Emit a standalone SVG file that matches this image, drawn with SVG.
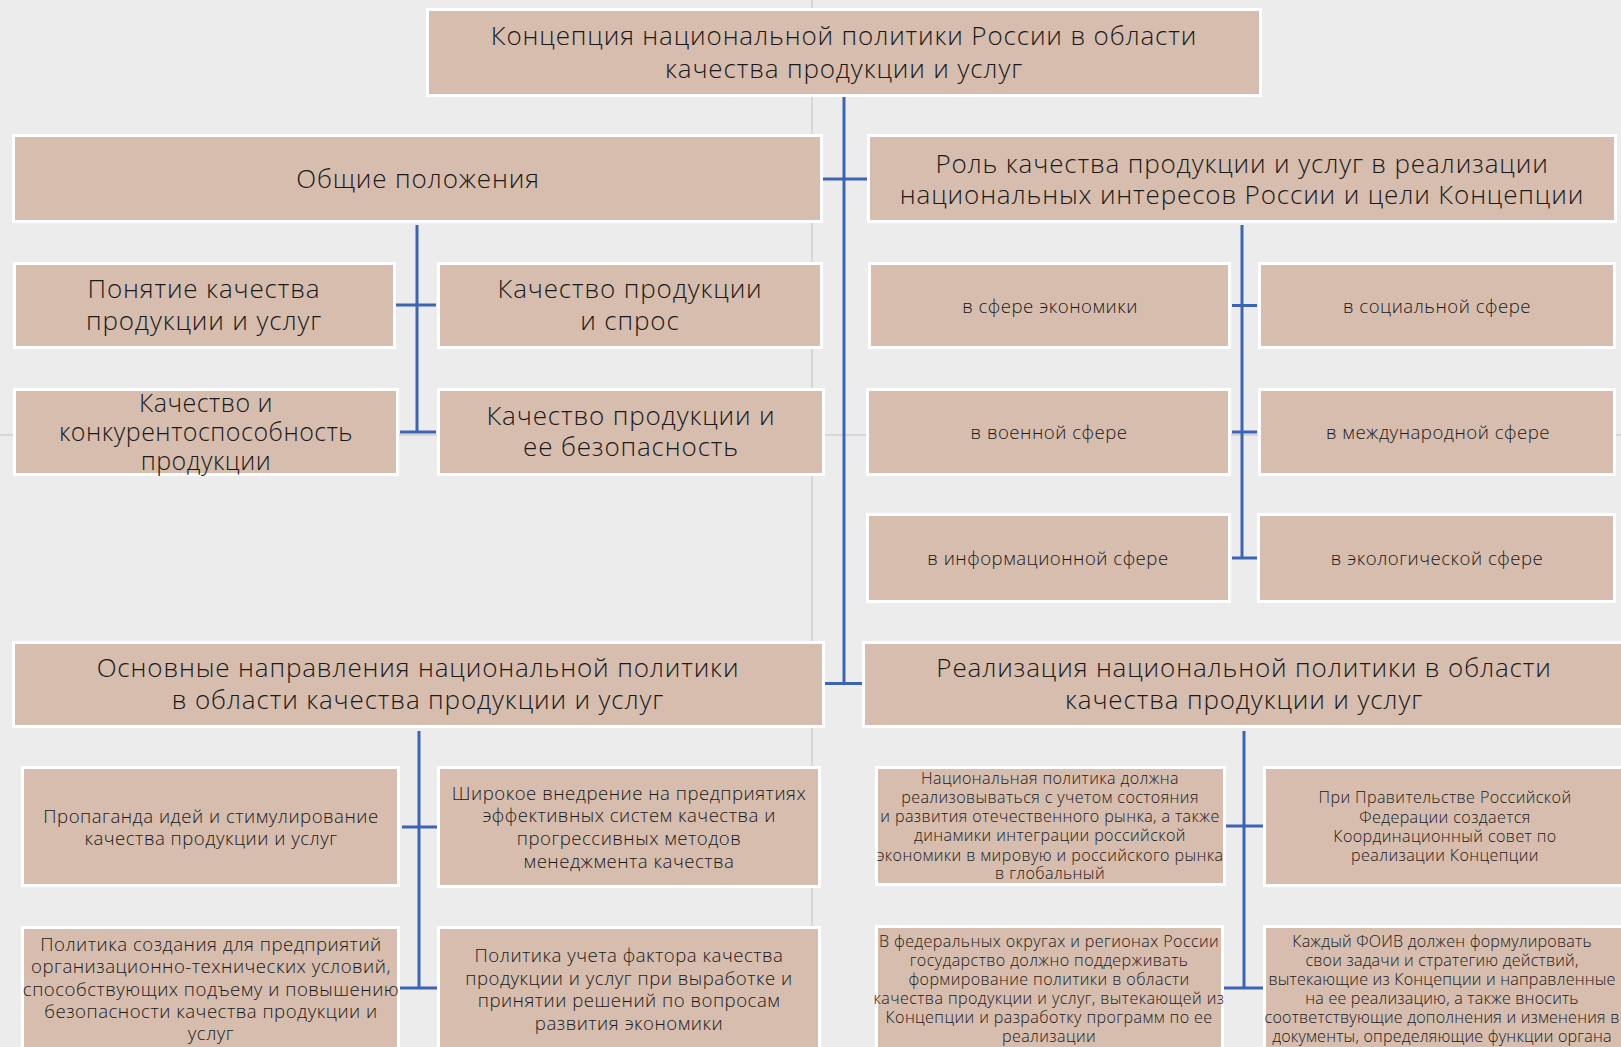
<svg xmlns="http://www.w3.org/2000/svg" width="1621" height="1047" viewBox="0 0 1621 1047">
<style>
.bg{fill:#ececec}
.grid{stroke:#d6d6d6;stroke-width:2;fill:none}
.box{fill:#d6bdae;stroke:#ffffff;stroke-width:3}
.con{stroke:#3c64b4;stroke-width:3;fill:none}
text{font-family:"Open Sans","Noto Sans","Liberation Sans",sans-serif;fill:#1a1a1a;text-anchor:middle;font-weight:300}
.h{font-size:26px;letter-spacing:0.85px}
.h2{font-size:25px;letter-spacing:0.5px}
.m{font-size:18.6px;letter-spacing:0.5px}
.s{font-size:16.1px;letter-spacing:0.4px}
.s2{font-size:16.1px;letter-spacing:0.2px}
</style>
<rect class="bg" x="0" y="0" width="1621" height="1047"/>
<path class="grid" d="M812 0V1047M0 435H1621"/>
<g id="connectors">
<path class="con" d="M844 97V684M823 179H867M825 683.5H862"/>
<path class="con" d="M417 225V432M396 305H436M400 432H436"/>
<path class="con" d="M1242 225V558M1232 305.5H1257M1232 432H1257M1232 558H1257"/>
<path class="con" d="M419 731V988M402 827H437M400 988H437"/>
<path class="con" d="M1244 731V988M1226 826H1263M1224 988H1263"/>
</g>
<g id="n1"><rect class="box" x="427.5" y="9.5" width="833" height="86"/><text class="h" x="844" y="45">Концепция национальной политики России в области</text><text class="h" x="844" y="77.5">качества продукции и услуг</text></g>
<g id="n2"><rect class="box" x="13.5" y="135.5" width="808" height="86"/><text class="h" x="418" y="188">Общие положения</text></g>
<g id="n3"><rect class="box" x="868.5" y="135.5" width="747" height="86"/><text class="h" x="1242" y="172.5">Роль качества продукции и услуг в реализации</text><text class="h" x="1242" y="203.5">национальных интересов России и цели Концепции</text></g>
<g id="n4"><rect class="box" x="14.5" y="263.5" width="380" height="84"/><text class="h" x="204" y="298">Понятие качества</text><text class="h" x="204" y="330">продукции и услуг</text></g>
<g id="n5"><rect class="box" x="438.5" y="263.5" width="383" height="84"/><text class="h" x="630" y="298">Качество продукции</text><text class="h" x="630" y="330">и спрос</text></g>
<g id="n6"><rect class="box" x="14.5" y="389.5" width="383" height="85"/><text class="h2" x="206" y="411.5">Качество и</text><text class="h2" x="206" y="440.5">конкурентоспособность</text><text class="h2" x="206" y="470">продукции</text></g>
<g id="n7"><rect class="box" x="438.5" y="389.5" width="385" height="85"/><text class="h" x="631" y="425">Качество продукции и</text><text class="h" x="631" y="456">ее безопасность</text></g>
<g id="n8"><rect class="box" x="869.5" y="263.5" width="360" height="84"/><text class="m" x="1050" y="313">в сфере экономики</text></g>
<g id="n9"><rect class="box" x="1259.5" y="263.5" width="355" height="84"/><text class="m" x="1437" y="313">в социальной сфере</text></g>
<g id="n10"><rect class="box" x="867.5" y="389.5" width="362" height="85"/><text class="m" x="1049" y="438.5">в военной сфере</text></g>
<g id="n11"><rect class="box" x="1259.5" y="389.5" width="355" height="85"/><text class="m" x="1438" y="438.5">в международной сфере</text></g>
<g id="n12"><rect class="box" x="867.5" y="514.5" width="362" height="87"/><text class="m" x="1048" y="564.5">в информационной сфере</text></g>
<g id="n13"><rect class="box" x="1258.5" y="514.5" width="356" height="87"/><text class="m" x="1437" y="564.5">в экологической сфере</text></g>
<g id="n14"><rect class="box" x="13.5" y="642.5" width="810" height="84"/><text class="h" x="418" y="677">Основные направления национальной политики</text><text class="h" x="418" y="709">в области качества продукции и услуг</text></g>
<g id="n15"><rect class="box" x="863.5" y="642.5" width="760" height="84"/><text class="h" x="1244" y="677">Реализация национальной политики в области</text><text class="h" x="1244" y="709">качества продукции и услуг</text></g>
<g id="n16"><rect class="box" x="22.5" y="767.5" width="376" height="118"/><text class="m" x="211" y="823">Пропаганда идей и стимулирование</text><text class="m" x="211" y="845">качества продукции и услуг</text></g>
<g id="n17"><rect class="box" x="438.5" y="767.5" width="381" height="119"/><text class="m" x="629" y="800">Широкое внедрение на предприятиях</text><text class="m" x="629" y="822">эффективных систем качества и</text><text class="m" x="629" y="845">прогрессивных методов</text><text class="m" x="629" y="868">менеджмента качества</text></g>
<g id="n18"><rect class="box" x="22.5" y="927.5" width="376" height="140"/><text class="m" x="211" y="950.5">Политика создания для  предприятий</text><text class="m" x="211" y="973">организационно-технических условий,</text><text class="m" x="211" y="995.5">способствующих подъему и повышению</text><text class="m" x="211" y="1018">безопасности качества продукции и</text><text class="m" x="211" y="1040">услуг</text></g>
<g id="n19"><rect class="box" x="438.5" y="927.5" width="381" height="140"/><text class="m" x="629" y="962">Политика учета фактора качества</text><text class="m" x="629" y="984.5">продукции и услуг при выработке и</text><text class="m" x="629" y="1007">принятии решений по вопросам</text><text class="m" x="629" y="1029.5">развития экономики</text></g>
<g id="n20"><rect class="box" x="876.5" y="767.5" width="348" height="117"/><text class="s" x="1050" y="784">Национальная политика должна</text><text class="s" x="1050" y="803">реализовываться с учетом состояния</text><text class="s" x="1050" y="822">и развития отечественного рынка, а также</text><text class="s" x="1050" y="841">динамики  интеграции российской</text><text class="s" x="1050" y="860.5">экономики в мировую и российского рынка</text><text class="s" x="1050" y="879">в глобальный</text></g>
<g id="n21"><rect class="box" x="1264.5" y="767.5" width="380" height="118"/><text class="s" x="1445" y="803">При Правительстве Российской</text><text class="s" x="1445" y="822.5">Федерации создается</text><text class="s" x="1445" y="841.5">Координационный совет по</text><text class="s" x="1445" y="860.5">реализации Концепции</text></g>
<g id="n22"><rect class="box" x="876.5" y="926.5" width="346" height="140"/><text class="s" x="1049" y="946.5">В федеральных округах и регионах России</text><text class="s" x="1049" y="965.5">государство должно поддерживать</text><text class="s" x="1049" y="984.5">формирование политики в области</text><text class="s" x="1049" y="1003.5">качества продукции и услуг, вытекающей из</text><text class="s" x="1049" y="1022.5">Концепции и разработку программ по ее</text><text class="s" x="1049" y="1041.5">реализации</text></g>
<g id="n23"><rect class="box" x="1264.5" y="926.5" width="380" height="140"/><text class="s2" x="1442" y="946.5">Каждый ФОИВ должен формулировать</text><text class="s2" x="1442" y="965.5">свои задачи и стратегию действий,</text><text class="s2" x="1442" y="984.5">вытекающие из Концепции и направленные</text><text class="s2" x="1442" y="1003.5">на ее реализацию, а также вносить</text><text class="s2" x="1442" y="1022.5">соответствующие дополнения и изменения в</text><text class="s2" x="1442" y="1041.5">документы, определяющие функции органа</text></g>
</svg>
